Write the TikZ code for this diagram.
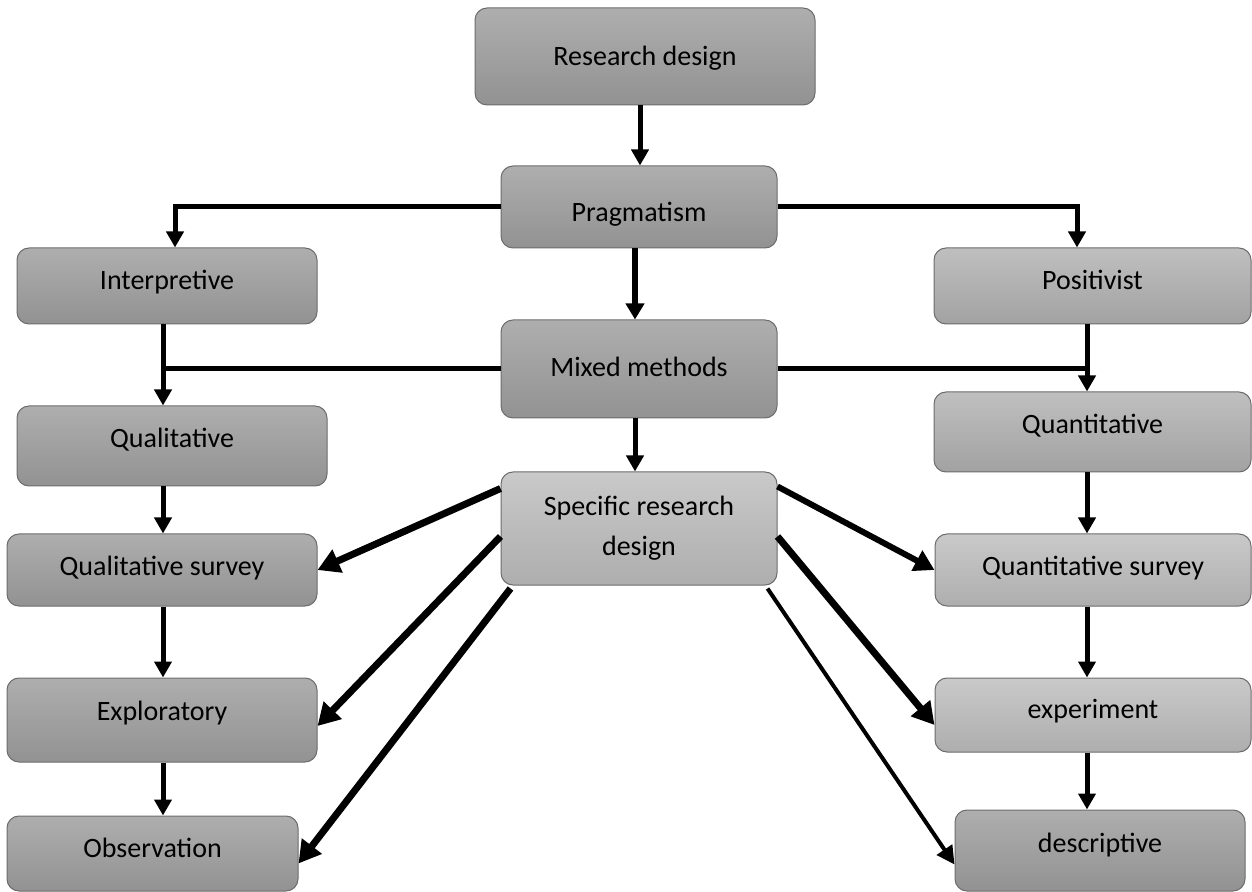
\documentclass[tikz,border=0pt]{standalone}
\usepackage{fontspec}
\setmainfont{Carlito}
\usetikzlibrary{arrows.meta}
\definecolor{dtop}{HTML}{AEAEAE}
\definecolor{dbot}{HTML}{929292}
\definecolor{ltop}{HTML}{C9C9C9}
\definecolor{lbot}{HTML}{AEAEAE}
\definecolor{mtop}{HTML}{BFBFBF}
\definecolor{mbot}{HTML}{A2A2A2}
\definecolor{bord}{HTML}{6C6C6C}
\tikzset{
  box/.style={draw=bord, line width=0.5pt, rounded corners=6pt, align=center,
    font=\fontsize{14}{20}\selectfont, inner sep=0pt},
  tb/.style={text height=10.5pt, text depth=7pt},
  dbox/.style={box, top color=dtop, bottom color=dbot},
  lbox/.style={box, top color=ltop, bottom color=lbot},
  mbox/.style={box, top color=mtop, bottom color=mbot},
  conn/.style={line width=2.5pt},
  arr/.style={line width=2.5pt, -{Triangle[width=8.5pt,length=8pt]}},
  darr/.style={line width=3.5pt, -{Triangle[width=12pt,length=11pt]}},
}
\begin{document}
\begin{tikzpicture}[x=0.5pt,y=-0.5pt]
\useasboundingbox (0,0) rectangle (1252,892);
\node[dbox, tb, minimum width=170pt, minimum height=48.5pt, text depth=1.5pt] (rd) at (645,56.5) {Research design};
\node[dbox, tb, minimum width=138pt, minimum height=41pt, text height=15.5pt, text depth=1pt] (prag) at (639,207) {Pragmatism};
\node[dbox, tb, minimum width=150pt, minimum height=38pt] (interp) at (167,286) {Interpretive};
\node[mbox, tb, minimum width=158.5pt, minimum height=38pt] (posit) at (1092.5,286) {Positivist};
\node[dbox, tb, minimum width=138pt, minimum height=49pt, text depth=3pt] (mixed) at (639,369) {Mixed methods};
\node[dbox, tb, minimum width=155pt, minimum height=40pt, text depth=9pt] (qual) at (172,446) {Qualitative};
\node[mbox, tb, minimum width=158.5pt, minimum height=40pt, text depth=9pt] (quant) at (1092.5,432) {Quantitative};
\node[lbox, minimum width=138pt, minimum height=56.5pt] (spec) at (639,528.5) {Specific research\\design};
\node[dbox, tb, minimum width=155pt, minimum height=36pt, text depth=5pt] (qsurv) at (162,570) {Qualitative survey};
\node[lbox, tb, minimum width=158pt, minimum height=36pt, text depth=5pt] (nsurv) at (1093,570) {Quantitative survey};
\node[dbox, tb, minimum width=155pt, minimum height=42pt, text depth=10pt] (expl) at (162,720) {Exploratory};
\node[lbox, tb, minimum width=158pt, minimum height=37pt] (exper) at (1093,715) {experiment};
\node[dbox, tb, minimum width=145.5pt, minimum height=37.5pt] (obs) at (152.5,853.5) {Observation};
\node[dbox, tb, minimum width=145pt, minimum height=40.5pt, text depth=9pt] (desc) at (1100,850.5) {descriptive};

\coordinate (lc) at (163,0);
\coordinate (rc) at (1087,0);
\coordinate (lb) at (175,0);
\coordinate (rb) at (1077,0);
\coordinate (c640) at (640,0);
\coordinate (c635) at (635,0);

\draw[arr] (rd.south -| c640) -- (prag.north -| c640);
\draw[arr] (prag.west) -| (interp.north -| lb);
\draw[arr] (prag.east) -| (posit.north -| rb);
\draw[line width=3pt, -{Triangle[width=9pt,length=8pt]}] (prag.south -| c635) -- (mixed.north -| c635);
\draw[arr] (interp.south -| lc) -- (qual.north -| lc);
\draw[arr] (posit.south -| rc) -- (quant.north -| rc);
\draw[conn] (mixed.west) -- (mixed.west -| lc);
\draw[conn] (mixed.east) -- (mixed.east -| rc);
\draw[arr] (mixed.south -| c635) -- (spec.north -| c635);
\draw[arr] (qual.south -| lc) -- (qsurv.north -| lc);
\draw[arr] (qsurv.south -| lc) -- (expl.north -| lc);
\draw[arr] (expl.south -| lc) -- (obs.north -| lc);
\draw[arr] (quant.south -| rc) -- (nsurv.north -| rc);
\draw[arr] (nsurv.south -| rc) -- (exper.north -| rc);
\draw[arr] (exper.south -| rc) -- (desc.north -| rc);

\draw[darr] ([yshift=20pt]spec.west) -- (qsurv.east);
\draw[darr] ([yshift=-4pt]spec.west) -- ([yshift=-3pt]expl.east);
\draw[darr] ([xshift=5pt,yshift=-1.5pt]spec.south west) -- ([yshift=-5pt]obs.east);
\draw[line width=3pt, -{Triangle[width=11pt,length=10pt]}] ([yshift=21pt]spec.east) -- (nsurv.west);
\draw[darr] ([yshift=-4pt]spec.east) -- ([yshift=-5pt]exper.west);
\draw[line width=2pt, -{Triangle[width=9pt,length=9pt]}] ([xshift=-5pt,yshift=-1.5pt]spec.south east) -- ([yshift=-7pt]desc.west);
\end{tikzpicture}
\end{document}
